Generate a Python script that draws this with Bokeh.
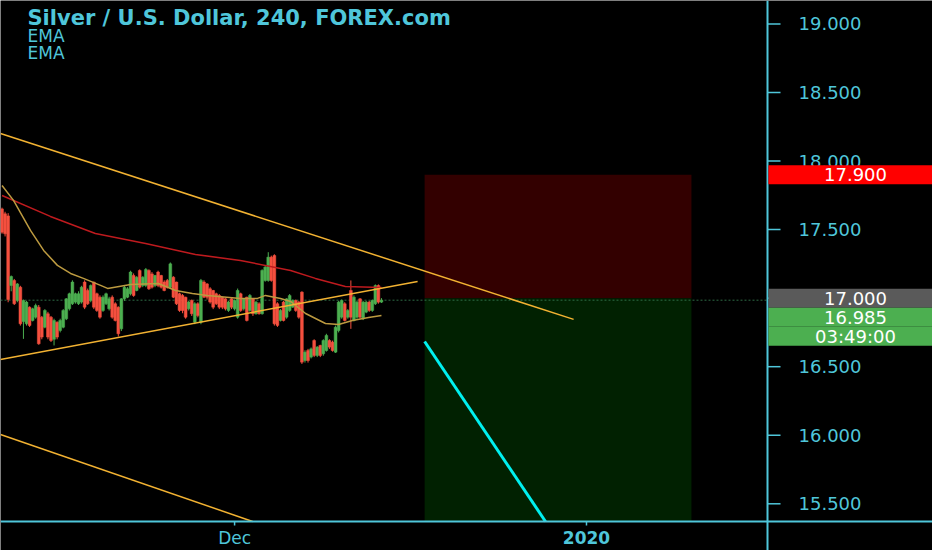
from bokeh.plotting import figure
from bokeh.models import ColumnDataSource, Label, Range1d
from bokeh.core.properties import value
from bokeh.embed import file_html
from bokeh.resources import INLINE

# ---------------- data ----------------
opens = [17.651, 17.615, 17.60, 17.092, 17.129, 16.983, 17.08, 16.83, 16.813, 16.934,
         16.837, 16.861, 16.934, 16.861, 16.788, 16.886, 16.861, 16.70, 16.825, 16.764,
         16.788, 16.849, 16.922, 16.959, 16.971, 16.959, 16.971, 17.117, 17.056, 16.983,
         17.117, 17.032, 17.007, 16.910, 16.959, 16.922, 17.007, 16.959, 16.934, 16.776,
         16.995, 17.007, 17.032, 17.165, 17.056, 17.202, 17.092, 17.092, 17.202, 17.177,
         17.092, 17.190, 17.165, 17.117, 17.129, 17.080, 17.153, 17.117, 17.032, 17.019,
         17.007, 16.922, 16.983, 16.825, 16.959, 16.825, 17.117, 17.104, 17.068, 17.056,
         17.032, 17.019, 17.007, 16.995, 16.910, 16.995, 16.922, 16.861, 17.032, 16.922,
         17.007, 16.910, 16.995, 16.886, 16.959, 16.886, 17.129, 17.129, 17.299, 17.311,
         16.959, 16.837, 16.971, 16.861, 16.910, 16.934, 16.983, 16.971, 17.044, 16.545,
         16.618, 16.570, 16.691, 16.582, 16.655, 16.594, 16.618, 16.691, 16.679, 16.606,
         16.764, 16.861, 16.959, 16.861, 17.056, 16.837, 16.861, 16.995, 16.849, 16.898,
         16.971, 16.910, 16.959, 17.092, 16.971]
highs = [17.66, 17.63, 17.62, 17.165, 17.14, 17.11, 17.09, 16.99, 16.98, 16.94,
         16.93, 16.96, 16.95, 16.87, 16.92, 16.90, 16.87, 16.85, 16.83, 16.85,
         16.92, 17.00, 17.04, 17.13, 17.04, 17.05, 17.09, 17.13, 17.07, 17.10,
         17.12, 17.04, 17.02, 17.02, 17.04, 17.01, 17.02, 16.97, 16.94, 17.00,
         17.09, 17.08, 17.20, 17.18, 17.16, 17.21, 17.16, 17.22, 17.21, 17.19,
         17.17, 17.20, 17.17, 17.13, 17.14, 17.26, 17.16, 17.12, 17.04, 17.03,
         17.01, 16.98, 16.99, 16.97, 16.97, 17.14, 17.13, 17.11, 17.08, 17.06,
         17.04, 17.03, 17.01, 17.00, 16.98, 17.00, 16.99, 17.07, 17.04, 17.00,
         17.01, 17.03, 17.00, 16.98, 16.97, 17.21, 17.24, 17.335, 17.31, 17.32,
         16.97, 16.92, 16.98, 17.00, 17.03, 16.99, 16.99, 16.98, 17.05, 16.62,
         16.63, 16.64, 16.70, 16.65, 16.66, 16.70, 16.74, 16.70, 16.69, 16.80,
         16.98, 16.99, 16.97, 16.92, 17.129, 17.02, 16.98, 17.00, 16.98, 16.98,
         16.98, 16.99, 17.10, 17.10, 17.00]
lows = [17.47, 17.45, 16.97, 17.05, 16.95, 16.97, 16.80, 16.703, 16.80, 16.79,
        16.83, 16.85, 16.66, 16.70, 16.78, 16.70, 16.68, 16.655, 16.70, 16.75,
        16.78, 16.84, 16.91, 16.95, 16.96, 16.95, 16.96, 16.92, 16.95, 16.97,
        16.92, 16.90, 16.85, 16.90, 16.95, 16.91, 16.85, 16.83, 16.72, 16.76,
        16.98, 17.00, 17.02, 17.01, 17.05, 17.07, 17.08, 17.08, 17.06, 17.07,
        17.08, 17.08, 17.07, 17.05, 17.07, 17.07, 17.00, 16.95, 16.90, 16.89,
        16.85, 16.91, 16.87, 16.81, 16.86, 16.81, 17.00, 16.99, 16.96, 16.92,
        16.95, 16.92, 16.92, 16.91, 16.90, 16.92, 16.91, 16.85, 16.90, 16.91,
        16.83, 16.90, 16.87, 16.88, 16.88, 16.88, 17.12, 17.12, 17.12, 16.80,
        16.79, 16.83, 16.83, 16.85, 16.90, 16.93, 16.90, 16.85, 16.52, 16.53,
        16.53, 16.56, 16.57, 16.57, 16.57, 16.58, 16.61, 16.63, 16.61, 16.60,
        16.75, 16.85, 16.83, 16.85, 16.776, 16.83, 16.85, 16.85, 16.84, 16.89,
        16.90, 16.90, 16.95, 16.96, 16.965]
closes = [17.481, 17.469, 16.99, 17.158, 16.959, 17.104, 16.813, 16.983, 16.971, 16.801,
          16.922, 16.946, 16.667, 16.716, 16.910, 16.716, 16.691, 16.837, 16.716, 16.837,
          16.910, 16.995, 17.032, 17.117, 17.032, 17.032, 17.080, 16.934, 16.959, 17.092,
          16.934, 16.910, 16.861, 17.007, 17.032, 16.995, 16.861, 16.837, 16.740, 16.995,
          17.080, 17.068, 17.190, 17.019, 17.153, 17.080, 17.153, 17.209, 17.068, 17.080,
          17.165, 17.092, 17.080, 17.056, 17.080, 17.250, 17.007, 16.959, 16.910, 16.910,
          16.861, 16.971, 16.886, 16.959, 16.873, 17.129, 17.007, 17.007, 16.971, 16.934,
          16.959, 16.934, 16.934, 16.922, 16.971, 16.934, 16.983, 17.056, 16.910, 16.995,
          16.837, 17.019, 16.886, 16.971, 16.886, 17.202, 17.226, 17.299, 17.129, 16.813,
          16.801, 16.910, 16.837, 16.995, 17.019, 16.983, 16.910, 16.861, 16.533, 16.606,
          16.545, 16.630, 16.582, 16.643, 16.582, 16.691, 16.728, 16.643, 16.618, 16.788,
          16.971, 16.983, 16.837, 16.910, 16.861, 17.007, 16.971, 16.861, 16.971, 16.971,
          16.910, 16.983, 17.092, 16.971, 16.985]

# slow EMA (red) and fast EMA (tan): bar index / price
ema_slow_x = [0, 15.8, 30.5, 46.9, 63.2, 77.9, 94.3, 102.4, 112.2, 124.0]
ema_slow_y = [17.749, 17.596, 17.472, 17.399, 17.319, 17.275, 17.202, 17.144, 17.085, 17.078]
ema_fast_x = [0.0, 3.75, 9.3, 13.6, 18.1, 22.4, 26.6, 32.2, 34.5, 42.0, 51.1, 56.7, 62.2,
              67.1, 77.9, 83.5, 86.1, 91.0, 94.3, 99.2, 105.7, 110.0, 114.5, 119.8, 124.0]
ema_fast_y = [17.822, 17.713, 17.494, 17.348, 17.239, 17.180, 17.144, 17.093, 17.071, 17.100,
              17.107, 17.056, 17.034, 17.020, 16.998, 16.998, 17.020, 16.998, 16.976, 16.888,
              16.815, 16.808, 16.837, 16.859, 16.874]

# trend lines (bar index / price)
upper_trend_x = [-0.5, 186.8]
upper_trend_y = [18.201, 16.845]
lower_trend_x = [-0.5, 135.8]
lower_trend_y = [16.553, 17.122]
channel_x = [-0.5, 81.9]
channel_y = [16.006, 15.371]
projection_x = [138.1, 177.6]
projection_y = [16.684, 15.371]

# short position tool
pos_left = [138.1]
pos_right = [225.3]
entry_price = 17.000
stop_price = 17.900
last_price = 16.985

# scales / labels
price_ticks = [15.5, 16.0, 16.5, 17.0, 17.5, 18.0, 18.5, 19.0]
time_ticks = [76, 191]
time_labels = ["Dec", "2020"]
price_tags = ["17.900", "17.000", "16.985", "03:49:00"]
tag_colors = ["#FF0000", "#5A5A5A", "#4CAF50", "#4CAF50"]

# ---------------- layout constants ----------------
W, H = 932, 550
PX_BAR = 3.06      # pixels per bar
PX_UNIT = 137.1    # pixels per 1.000 of price
Y_TOP = 19.171


def px_x(px):
    return px / PX_BAR - 0.5


def px_y(py):
    return Y_TOP - py / PX_UNIT


X0, X1 = px_x(0), px_x(W)
Y0 = px_y(H)
AXIS_X = px_x(767)        # price scale line
AXIS_Y = px_y(521)        # time scale line
FLOOR = AXIS_Y

CYAN_TXT = "#4FC6DA"
GREEN = "#4CAF50"
RED = "#F5503F"
FONT = "DejaVu Sans"

p = figure(width=W, height=H, output_backend="svg", toolbar_location=None,
           x_range=Range1d(X0, X1), y_range=Range1d(Y0, Y_TOP),
           x_axis_location=None, y_axis_location=None, min_border=0,
           background_fill_color="#000000", border_fill_color="#000000",
           outline_line_color=None)
p.grid.visible = False

# position boxes
p.quad(left=pos_left, right=pos_right, top=[stop_price], bottom=[entry_price],
       fill_color="#330000", line_color=None)
p.quad(left=pos_left, right=pos_right, top=[entry_price], bottom=[FLOOR],
       fill_color="#012101", line_color=None)

# last-price dotted line
p.line([X0, AXIS_X], [last_price, last_price], line_color="#2E6A45",
       line_dash="2 2", line_width=1)

# candles
idx = list(range(len(opens)))
colors = [GREEN if c >= o else RED for o, c in zip(opens, closes)]
src = ColumnDataSource(dict(x=idx, o=opens, h=highs, l=lows, c=closes, color=colors))
p.segment(x0="x", y0="h", x1="x", y1="l", line_color="color", line_width=1, source=src)
p.vbar(x="x", width=0.92, top="o", bottom="c", fill_color="color", line_color="color",
       line_width=0.5, source=src)

# EMAs
p.line(ema_slow_x, ema_slow_y, line_color="#BE1A1E", line_width=1.5)
p.line(ema_fast_x, ema_fast_y, line_color="#BC9A40", line_width=1.5)

# trend lines
for xs, ys in [(upper_trend_x, upper_trend_y), (lower_trend_x, lower_trend_y),
               (channel_x, channel_y)]:
    p.line(xs, ys, line_color="#F2B232", line_width=1.5)
p.line(projection_x, projection_y, line_color="#00F0F0", line_width=3)

# ---- scales ----
p.line([AXIS_X, AXIS_X], [Y0, Y_TOP], line_color=CYAN_TXT, line_width=2)
p.line([X0, X1], [AXIS_Y, AXIS_Y], line_color=CYAN_TXT, line_width=2)

# price scale ticks + labels
p.segment(x0=[AXIS_X] * len(price_ticks), y0=price_ticks,
          x1=[px_x(780)] * len(price_ticks), y1=price_ticks,
          line_color=CYAN_TXT, line_width=1.5)
p.text(x=[px_x(798)] * len(price_ticks), y=price_ticks,
       text=["%.3f" % t for t in price_ticks],
       text_color=CYAN_TXT, text_font=value(FONT), text_font_size="18px",
       text_align="left", text_baseline="middle")

# time scale ticks + labels
p.segment(x0=time_ticks, y0=[AXIS_Y] * 2, x1=time_ticks, y1=[px_y(525)] * 2,
          line_color=CYAN_TXT, line_width=1.5)
p.text(x=[time_ticks[0]], y=[px_y(537)], text=[time_labels[0]],
       text_color=CYAN_TXT, text_font=value(FONT), text_font_size="17px",
       text_align="center", text_baseline="middle")
p.text(x=[time_ticks[1]], y=[px_y(537)], text=[time_labels[1]],
       text_color=CYAN_TXT, text_font=value(FONT), text_font_size="17px",
       text_font_style="bold", text_align="center", text_baseline="middle")

# price tags on the scale
entry_px = (Y_TOP - entry_price) * PX_UNIT
tag_centers = [stop_price, entry_price, px_y(entry_px + 19), px_y(entry_px + 38)]
half = 9.5 / PX_UNIT
p.quad(left=[AXIS_X + 0.3] * 4, right=[X1] * 4,
       top=[c + half for c in tag_centers], bottom=[c - half for c in tag_centers],
       fill_color=tag_colors, line_color=None)
p.text(x=[px_x(855)] * 4, y=tag_centers, text=price_tags,
       text_color="#FFFFFF", text_font=value(FONT), text_font_size="18px",
       text_align="center", text_baseline="middle")

# header
p.add_layout(Label(x=27, y=H - 17, x_units="screen", y_units="screen",
                   text="Silver / U.S. Dollar, 240, FOREX.com", text_color=CYAN_TXT,
                   text_font=FONT, text_font_size="21px", text_font_style="bold",
                   text_baseline="middle"))
for yy in [H - 35, H - 52]:
    p.add_layout(Label(x=27, y=yy, x_units="screen", y_units="screen", text="EMA",
                       text_color=CYAN_TXT, text_font=FONT, text_font_size="17px",
                       text_baseline="middle"))

open("out.html", "w").write(file_html(p, INLINE))
